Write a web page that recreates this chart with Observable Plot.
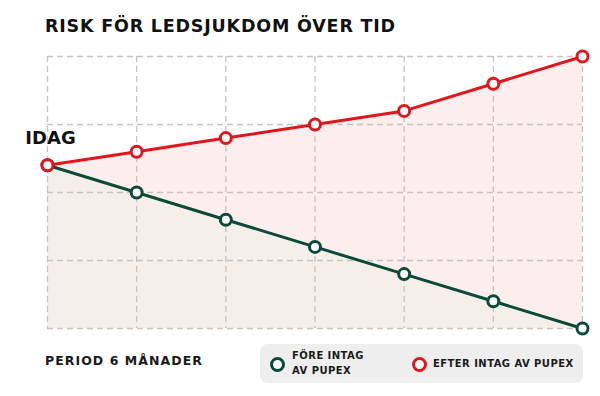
<!DOCTYPE html>
<html><head><meta charset="utf-8">
<script src="https://cdn.jsdelivr.net/npm/d3@7"></script>
<script src="https://cdn.jsdelivr.net/npm/@observablehq/plot@0.6"></script>
<style>
body{margin:0;background:#fff;font-family:"DejaVu Sans",sans-serif;}
#wrap{position:relative;width:600px;height:396px;overflow:hidden;}
#chart{position:absolute;left:0;top:0;}
.title{position:absolute;left:45px;top:16px;font-weight:bold;font-size:17.5px;letter-spacing:0.8px;color:#111;white-space:nowrap;}
.period{position:absolute;left:45px;top:353px;font-weight:bold;font-size:12.5px;letter-spacing:1.05px;color:#1a1a1a;white-space:nowrap;}
.legend{position:absolute;left:260px;top:344px;width:323px;height:39px;background:#eeeeee;border-radius:8px;}
.sw{position:absolute;width:9px;height:9px;border-radius:50%;background:#fff;}
.lt{position:absolute;font-weight:bold;font-size:10px;letter-spacing:0.45px;color:#1a1a1a;line-height:15px;white-space:nowrap;}
</style></head>
<body>
<div id="wrap">
  <div id="chart"></div>
  <div class="title" id="title"></div>
  <div class="period" id="period"></div>
  <div class="legend" id="legend"></div>
</div>
<script>
const months = [0, 1, 2, 3, 4, 5, 6];
const efterValues = [60, 65, 70, 75, 80, 90, 100];
const foreValues = [60, 50, 40, 30, 20, 10, 0];
const yTicks = [0, 25, 50, 75, 100];
const titleText = "RISK FÖR LEDSJUKDOM ÖVER TID";
const periodText = "PERIOD 6 MÅNADER";
const todayLabel = "IDAG";
const legendFore = ["FÖRE INTAG", "AV PUPEX"];
const legendEfter = "EFTER INTAG AV PUPEX";

const red = "#e0161d", green = "#0b4a3b";
const efter = months.map((m, i) => ({m, v: efterValues[i]}));
const fore = months.map((m, i) => ({m, v: foreValues[i]}));

const plot = Plot.plot({
  width: 600, height: 396,
  marginLeft: 47, marginRight: 18, marginTop: 56, marginBottom: 68,
  x: {domain: [0, 6], axis: null},
  y: {domain: [0, 100], axis: null},
  marks: [
    Plot.areaY(efter, {x: "m", y: "v", fill: "#fdeeee"}),
    Plot.areaY(fore, {x: "m", y: "v", fill: "#f6efe9"}),
    Plot.gridX(months, {stroke: "#c4c4c4", strokeOpacity: 1, strokeDasharray: "6,4", strokeWidth: 1.3}),
    Plot.gridY(yTicks, {stroke: "#c4c4c4", strokeOpacity: 1, strokeDasharray: "6,4", strokeWidth: 1.3}),
    Plot.line(fore, {x: "m", y: "v", stroke: green, strokeWidth: 3}),
    Plot.line(efter, {x: "m", y: "v", stroke: red, strokeWidth: 3}),
    Plot.dot(fore, {x: "m", y: "v", r: 5.5, fill: "#fff", stroke: green, strokeWidth: 3}),
    Plot.dot(efter, {x: "m", y: "v", r: 5.5, fill: "#fff", stroke: red, strokeWidth: 3}),
    Plot.text([efter[0]], {x: "m", y: "v", text: () => todayLabel, dy: -27, dx: 3, fontSize: 18, fontWeight: "bold", fill: "#111", fontFamily: "DejaVu Sans", letterSpacing: 0.5})
  ]
});
document.getElementById("chart").appendChild(plot);
document.getElementById("title").textContent = titleText;
document.getElementById("period").textContent = periodText;
const lg = document.getElementById("legend");
lg.innerHTML = `
<div class="sw" style="left:10px;top:13px;border:3px solid ${green}"></div>
<div class="lt" style="left:32px;top:4px">${legendFore[0]}<br>${legendFore[1]}</div>
<div class="sw" style="left:152px;top:13px;border:3px solid ${red}"></div>
<div class="lt" style="left:173px;top:12px">${legendEfter}</div>`;
</script>
</body></html>
